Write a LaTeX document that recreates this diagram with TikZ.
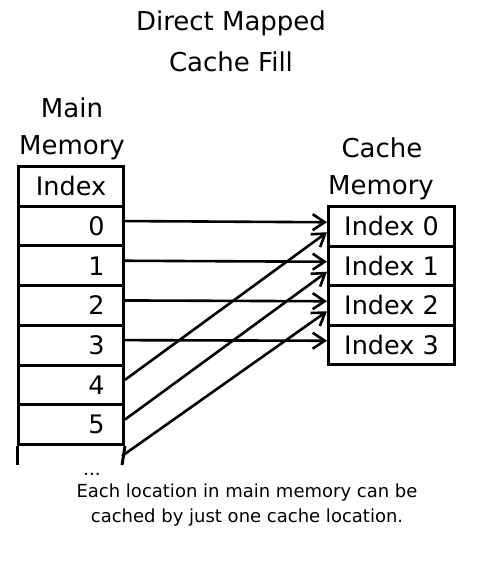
\documentclass[tikz,border=0pt]{standalone}
\usepackage{fontspec}
\setmainfont{DejaVu Sans}
\usetikzlibrary{arrows.meta}
\begin{document}
\begin{tikzpicture}[x=1pt,y=-1pt,
  cellbox/.style={draw,line width=3pt,minimum width=105pt,minimum height=39.7pt,inner ysep=0pt,anchor=north west,font=\fontsize{25.5}{30}\selectfont},
  numcell/.style={cellbox,text width=67pt,inner xsep=19pt,align=right},
  cachecell/.style={draw,line width=3pt,minimum width=126pt,minimum height=39.5pt,inner sep=0pt,anchor=north west,font=\fontsize{25.5}{30}\selectfont},
  lbl/.style={font=\fontsize{26}{30}\selectfont,inner sep=0pt},
  note/.style={font=\fontsize{18}{22}\selectfont,inner sep=0pt},
  conn/.style={line width=2.6pt,-{Straight Barb[length=12pt,width=16pt]}}]
\useasboundingbox (0,0) rectangle (490,565);
% titles
\node[lbl] (t1) at (231,23) {Direct Mapped};
\node[lbl] (t2) at (231,62) {Cache Fill};
\node[lbl] (mm1) at (72,108) {Main};
\node[lbl] (mm2) at (72,148) {Memory};
\node[lbl] (cm1) at (382,148) {Cache};
\node[lbl] (cm2) at (381,188) {Memory};
% main memory
\node[cellbox,inner xsep=0pt] (mi) at (17,165) {Index};
\node[numcell] (m0) at (17,204.7) {0};
\node[numcell] (m1) at (17,244.4) {1};
\node[numcell] (m2) at (17,284.1) {2};
\node[numcell] (m3) at (17,323.8) {3};
\node[numcell] (m4) at (17,363.5) {4};
\node[numcell] (m5) at (17,403.2) {5};
\coordinate (bl) at (17,465);
\coordinate (br) at (122,465);
\coordinate (m6) at (122,456);
\draw[line width=3pt] (m5.south west) -- (bl);
\draw[line width=3pt] (m5.south east) -- (br);
\node[note,anchor=base] (dots) at (92,475) {...};
% cache
\node[cachecell] (c0) at (327,205) {Index 0};
\node[cachecell] (c1) at (327,244.5) {Index 1};
\node[cachecell] (c2) at (327,284) {Index 2};
\node[cachecell] (c3) at (327,323.5) {Index 3};
% arrows
\foreach \i in {0,1,2,3}{
  \draw[conn] ([yshift=5pt]m\i.east) -- ([yshift=4pt]c\i.west);
}
\draw[conn] ([yshift=5pt]m4.east) -- ([yshift=-6pt]c0.west);
\draw[conn] ([yshift=5pt]m5.east) -- ([yshift=-6pt]c1.west);
\draw[conn] (m6) -- ([yshift=-6pt]c2.west);
% note
\node[note] (n1) at (247,493) {Each location in main memory can be};
\node[note] (n2) at (247,518) {cached by just one cache location.};
\end{tikzpicture}
\end{document}
